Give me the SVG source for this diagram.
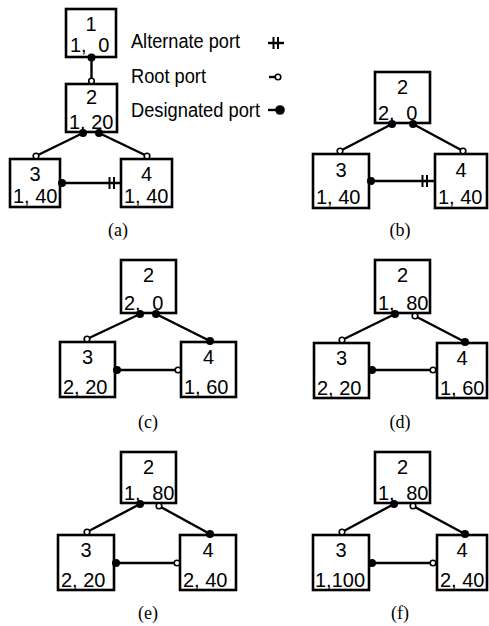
<svg xmlns="http://www.w3.org/2000/svg" width="489" height="626" viewBox="0 0 489 626">
<defs>
<style>
.box{fill:#fff;stroke:#000;stroke-width:2.6}
.t{font-family:"Liberation Sans",Arial,Helvetica,sans-serif;font-size:20px;fill:#000}
.c{text-anchor:middle}
.w{word-spacing:6px}
.lk{stroke:#000;stroke-width:2.4;fill:none}
.cap{font-family:"Liberation Serif","Times New Roman",serif;font-size:18px;text-anchor:middle;fill:#000}
.leg{font-family:"Liberation Sans",Arial,Helvetica,sans-serif;font-size:20px;fill:#000}
.bar{stroke:#000;stroke-width:2}
</style>
<marker id="dp" markerUnits="userSpaceOnUse" markerWidth="10" markerHeight="10" refX="5" refY="5" viewBox="0 0 10 10" overflow="visible">
<circle cx="5" cy="5" r="4" fill="#000"/>
</marker>
<marker id="rp" markerUnits="userSpaceOnUse" markerWidth="10" markerHeight="10" refX="5" refY="5" viewBox="0 0 10 10" overflow="visible">
<circle cx="5" cy="5" r="2.8" fill="#fff" stroke="#000" stroke-width="1.6"/>
</marker>
<g id="alt"><line class="bar" x1="0" y1="-6" x2="0" y2="6"/><line class="bar" x1="4.5" y1="-6" x2="4.5" y2="6"/></g>
</defs>
<rect width="489" height="626" fill="#fff"/>

<!-- Legend -->
<g id="legend">
<text class="leg" x="131" y="48" textLength="109" lengthAdjust="spacingAndGlyphs">Alternate port</text>
<text class="leg" x="131" y="83" textLength="75" lengthAdjust="spacingAndGlyphs">Root port</text>
<text class="leg" x="131" y="117" textLength="129" lengthAdjust="spacingAndGlyphs">Designated port</text>
<line class="lk" x1="268" y1="43" x2="284" y2="43" stroke-width="2"/>
<use href="#alt" x="273.5" y="43"/>
<line class="lk" x1="269" y1="77" x2="278" y2="77" stroke-width="2.2" marker-end="url(#rp)"/>
<line class="lk" x1="268" y1="110" x2="279" y2="110" stroke-width="2.2"/>
<circle cx="280" cy="110" r="4.8" fill="#000"/>
</g>

<!-- Panel (a) -->
<g id="a-n1"><rect class="box" x="66" y="9" width="50" height="48"/><text class="t c" x="91" y="31">1</text><text class="t w" x="70" y="52">1, 0</text></g>
<g id="a-n2"><rect class="box" x="66" y="84" width="51" height="48"/><text class="t c" x="91.5" y="104">2</text><text class="t" x="69" y="129">1, 20</text></g>
<g id="a-n3"><rect class="box" x="10" y="159" width="50" height="48"/><text class="t c" x="35" y="181">3</text><text class="t" x="13" y="203">1, 40</text></g>
<g id="a-n4"><rect class="box" x="121" y="159" width="51" height="48"/><text class="t c" x="146.5" y="181">4</text><text class="t" x="124" y="203">1, 40</text></g>
<text class="cap" x="118" y="236">(a)</text>

<!-- Panel (b) -->
<g id="b-n2"><rect class="box" x="375" y="72" width="55" height="51"/><text class="t c" x="402.5" y="94">2</text><text class="t w" x="378" y="120">2, 0</text></g>
<g id="b-n3"><rect class="box" x="313" y="154" width="56" height="54"/><text class="t c" x="341" y="177">3</text><text class="t" x="316" y="204">1, 40</text></g>
<g id="b-n4"><rect class="box" x="435" y="154" width="52" height="54"/><text class="t c" x="461" y="177">4</text><text class="t" x="438" y="204">1, 40</text></g>
<text class="cap" x="400" y="236">(b)</text>

<!-- Panel (c) -->
<g id="c-n2"><rect class="box" x="121" y="260" width="55" height="53"/><text class="t c" x="148.5" y="282">2</text><text class="t w" x="124" y="310">2, 0</text></g>
<g id="c-n3"><rect class="box" x="60" y="342" width="55" height="55"/><text class="t c" x="87.5" y="364">3</text><text class="t" x="63" y="394">2, 20</text></g>
<g id="c-n4"><rect class="box" x="181" y="342" width="55" height="55"/><text class="t c" x="208.5" y="364">4</text><text class="t" x="184" y="394">1, 60</text></g>
<text class="cap" x="148" y="428">(c)</text>

<!-- Panel (d) -->
<g id="d-n2"><rect class="box" x="375" y="260" width="55" height="53"/><text class="t c" x="402.5" y="282">2</text><text class="t w" x="378" y="310">1, 80</text></g>
<g id="d-n3"><rect class="box" x="314" y="343" width="55" height="55"/><text class="t c" x="341.5" y="365">3</text><text class="t" x="317" y="395">2, 20</text></g>
<g id="d-n4"><rect class="box" x="437" y="343" width="50" height="55"/><text class="t c" x="462" y="365">4</text><text class="t" x="440" y="395">1, 60</text></g>
<text class="cap" x="400" y="428">(d)</text>

<!-- Panel (e) -->
<g id="e-n2"><rect class="box" x="121" y="452" width="55" height="51"/><text class="t c" x="148.5" y="474">2</text><text class="t w" x="124" y="500">1, 80</text></g>
<g id="e-n3"><rect class="box" x="58" y="535" width="56" height="55"/><text class="t c" x="86" y="557">3</text><text class="t" x="61" y="587">2, 20</text></g>
<g id="e-n4"><rect class="box" x="180" y="535" width="56" height="55"/><text class="t c" x="208" y="557">4</text><text class="t" x="183" y="587">2, 40</text></g>
<text class="cap" x="148" y="619">(e)</text>

<!-- Panel (f) -->
<g id="f-n2"><rect class="box" x="375" y="452" width="55" height="51"/><text class="t c" x="402.5" y="474">2</text><text class="t w" x="378" y="500">1, 80</text></g>
<g id="f-n3"><rect class="box" x="313" y="535" width="56" height="55"/><text class="t c" x="341" y="557">3</text><text class="t" x="315" y="587">1,100</text></g>
<g id="f-n4"><rect class="box" x="437" y="535" width="50" height="55"/><text class="t c" x="462" y="557">4</text><text class="t" x="440" y="587">2, 40</text></g>
<text class="cap" x="400" y="619">(f)</text>

<!-- Connectors -->
<g id="connectors">
<!-- (a) -->
<line class="lk" x1="91.5" y1="57.5" x2="91.5" y2="81" marker-start="url(#dp)" marker-end="url(#rp)"/>
<line class="lk" x1="83" y1="133" x2="36" y2="156" marker-start="url(#dp)" marker-end="url(#rp)"/>
<line class="lk" x1="99" y1="133" x2="147" y2="156" marker-start="url(#dp)" marker-end="url(#rp)"/>
<line class="lk" x1="62" y1="183" x2="121" y2="183" marker-start="url(#dp)"/>
<use href="#alt" x="109.5" y="183"/>
<!-- (b) -->
<line class="lk" x1="392" y1="124" x2="340" y2="151" marker-start="url(#dp)" marker-end="url(#rp)"/>
<line class="lk" x1="413" y1="124" x2="463" y2="151" marker-start="url(#dp)" marker-end="url(#rp)"/>
<line class="lk" x1="371" y1="181" x2="435" y2="181" marker-start="url(#dp)"/>
<use href="#alt" x="422.5" y="181"/>
<!-- (c) -->
<line class="lk" x1="140" y1="314" x2="87" y2="339" marker-start="url(#dp)" marker-end="url(#rp)"/>
<line class="lk" x1="156" y1="314" x2="210" y2="341" marker-start="url(#dp)" marker-end="url(#dp)"/>
<line class="lk" x1="117" y1="370" x2="178" y2="370" marker-start="url(#dp)" marker-end="url(#rp)"/>
<!-- (d) -->
<line class="lk" x1="395" y1="314" x2="342" y2="340" marker-start="url(#dp)" marker-end="url(#rp)"/>
<line class="lk" x1="415" y1="316" x2="465" y2="342" marker-start="url(#rp)" marker-end="url(#dp)"/>
<line class="lk" x1="372" y1="370" x2="433" y2="370" marker-start="url(#dp)" marker-end="url(#rp)"/>
<!-- (e) -->
<line class="lk" x1="140" y1="504" x2="87" y2="532" marker-start="url(#dp)" marker-end="url(#rp)"/>
<line class="lk" x1="159" y1="506" x2="210" y2="534" marker-start="url(#rp)" marker-end="url(#dp)"/>
<line class="lk" x1="116" y1="563" x2="177" y2="563" marker-start="url(#dp)" marker-end="url(#rp)"/>
<!-- (f) -->
<line class="lk" x1="394" y1="504" x2="342" y2="532" marker-start="url(#dp)" marker-end="url(#rp)"/>
<line class="lk" x1="413" y1="506" x2="465" y2="534" marker-start="url(#rp)" marker-end="url(#dp)"/>
<line class="lk" x1="372" y1="563" x2="433" y2="563" marker-start="url(#dp)" marker-end="url(#rp)"/>
</g>
</svg>
